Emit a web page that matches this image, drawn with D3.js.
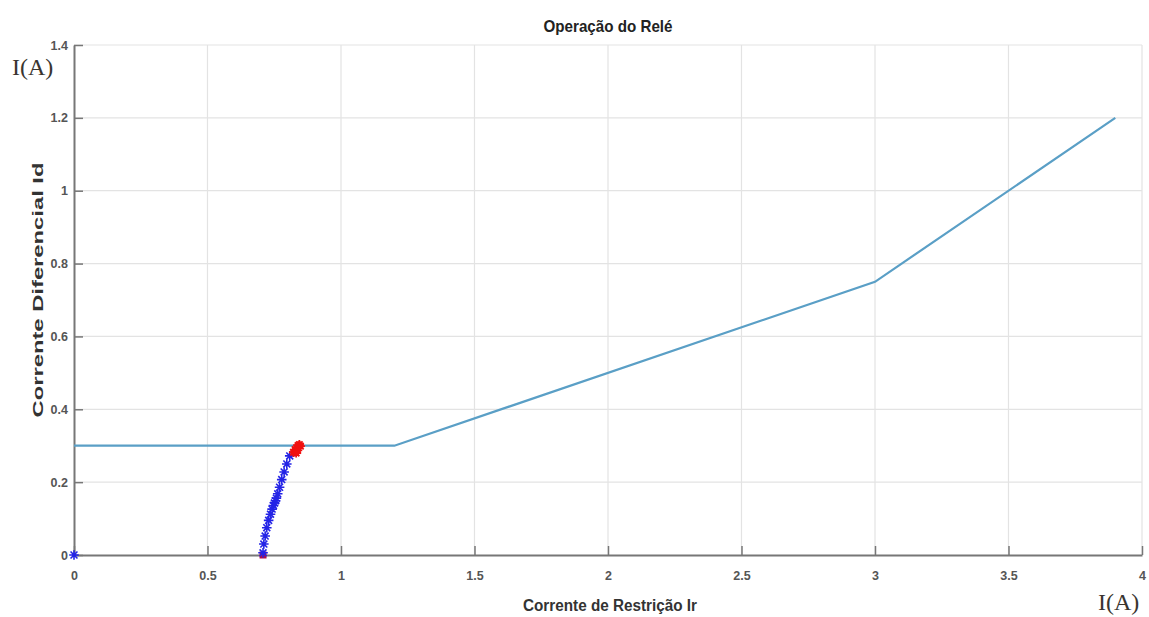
<!DOCTYPE html>
<html>
<head>
<meta charset="utf-8">
<script src="https://cdn.jsdelivr.net/npm/d3@7"></script>
<style>
  html, body { margin: 0; padding: 0; background: #fff; }
  svg { display: block; }
</style>
</head>
<body>
<svg id="chart" width="1149" height="617"></svg>
<script>
// Relay characteristic: restraint current Ir vs differential current Id
const characteristicIr = [0, 1.2, 3.0, 3.9];
const characteristicId = [0.3, 0.3, 0.75, 1.2];

// Measured trajectory (blue stars) while the fault develops
const trajIr = [0, 0.708, 0.711, 0.716, 0.722, 0.729, 0.736, 0.742, 0.747, 0.751, 0.755, 0.758, 0.763, 0.770, 0.778, 0.787, 0.797, 0.808];
const trajId = [0, 0.006, 0.030, 0.052, 0.075, 0.095, 0.112, 0.126, 0.136, 0.143, 0.149, 0.156, 0.168, 0.186, 0.207, 0.228, 0.250, 0.272];

// Trip points (red) on the characteristic
const tripIr = [0.822, 0.828, 0.834, 0.839, 0.844, 0.848, 0.838, 0.832];
const tripId = [0.282, 0.289, 0.295, 0.300, 0.303, 0.299, 0.287, 0.280];

// Starting sample
const startIr = [0.708];
const startId = [0.0];

const xTicks = [0, 0.5, 1, 1.5, 2, 2.5, 3, 3.5, 4];
const yTicks = [0, 0.2, 0.4, 0.6, 0.8, 1, 1.2, 1.4];

const titleText = "Operação do Relé";
const xLabelText = "Corrente de Restrição Ir";
const yLabelText = "Corrente Diferencial Id";
const unitText = "I(A)";

const W = 1149, H = 617;
const margin = { left: 74, right: 7, top: 45, bottom: 62 };
const svg = d3.select("#chart");

const x = d3.scaleLinear().domain([0, 4]).range([margin.left, W - margin.right]);
const y = d3.scaleLinear().domain([0, 1.4]).range([H - margin.bottom, margin.top]);

// grid
const grid = svg.append("g");
grid.selectAll("line.gx").data(xTicks.slice(1)).join("line")
  .attr("x1", d => x(d)).attr("x2", d => x(d))
  .attr("y1", y(0)).attr("y2", y(1.4))
  .attr("stroke", "#e3e3e3").attr("stroke-width", 1.2);
grid.selectAll("line.gy").data(yTicks.slice(1)).join("line")
  .attr("y1", d => y(d)).attr("y2", d => y(d))
  .attr("x1", x(0)).attr("x2", x(4))
  .attr("stroke", "#e3e3e3").attr("stroke-width", 1.2);

// axes (ticks point inward)
const fmt = d => d3.format("~g")(d);
const xAxis = svg.append("g").attr("transform", `translate(0,${y(0)})`)
  .call(d3.axisBottom(x).tickValues(xTicks).tickFormat(fmt).tickSizeInner(-9).tickSizeOuter(0).tickPadding(16));
const yAxis = svg.append("g").attr("transform", `translate(${x(0)},0)`)
  .call(d3.axisLeft(y).tickValues(yTicks).tickFormat(fmt).tickSizeInner(-9).tickSizeOuter(0).tickPadding(6));
[xAxis, yAxis].forEach(g => {
  g.select(".domain").attr("stroke", "#777").attr("stroke-width", 2);
  g.selectAll(".tick line").attr("stroke", "#777").attr("stroke-width", 1.5);
  g.selectAll(".tick text")
    .attr("fill", "#555")
    .attr("font-family", "Liberation Sans, Arial, sans-serif")
    .attr("font-weight", "bold")
    .attr("font-size", 12.5);
});

// characteristic line
const line = d3.line().x(d => x(d[0])).y(d => y(d[1]));
svg.append("path")
  .datum(d3.zip(characteristicIr, characteristicId))
  .attr("d", line)
  .attr("fill", "none")
  .attr("stroke", "#5a9fc6")
  .attr("stroke-width", 2.2);

// star marker path (MATLAB '*')
function starPath(r) {
  const a = r * 0.72;
  return `M${-r},0L${r},0M0,${-r}L0,${r}M${-a},${-a}L${a},${a}M${-a},${a}L${a},${-a}`;
}

// start square
svg.append("g").selectAll("rect").data(d3.zip(startIr, startId)).join("rect")
  .attr("x", d => x(d[0]) - 3.5).attr("y", d => y(d[1]) - 3.5)
  .attr("width", 7).attr("height", 7)
  .attr("fill", "#b0104a");

// trajectory stars
svg.append("g").selectAll("path").data(d3.zip(trajIr, trajId)).join("path")
  .attr("transform", d => `translate(${x(d[0])},${y(d[1])})`)
  .attr("d", starPath(4.8))
  .attr("stroke", "#2424e6")
  .attr("stroke-width", 1.6)
  .attr("fill", "none");

// trip points
const trip = svg.append("g");
trip.selectAll("circle").data(d3.zip(tripIr, tripId)).join("circle")
  .attr("cx", d => x(d[0])).attr("cy", d => y(d[1]))
  .attr("r", 3.2).attr("fill", "#f01010");
trip.selectAll("path").data(d3.zip(tripIr, tripId)).join("path")
  .attr("transform", d => `translate(${x(d[0])},${y(d[1])})`)
  .attr("d", starPath(4.5))
  .attr("stroke", "#f01010").attr("stroke-width", 1.8).attr("fill", "none");

// title and axis labels
svg.append("text")
  .attr("x", 608).attr("y", 32)
  .attr("text-anchor", "middle")
  .attr("font-family", "Liberation Sans, Arial, sans-serif")
  .attr("font-weight", "bold").attr("font-size", 17)
  .attr("fill", "#222")
  .attr("textLength", 129).attr("lengthAdjust", "spacingAndGlyphs")
  .text(titleText);

svg.append("text")
  .attr("x", 610).attr("y", 611)
  .attr("text-anchor", "middle")
  .attr("font-family", "Liberation Sans, Arial, sans-serif")
  .attr("font-weight", "bold").attr("font-size", 16)
  .attr("fill", "#333")
  .attr("textLength", 174).attr("lengthAdjust", "spacingAndGlyphs")
  .text(xLabelText);

svg.append("text")
  .attr("transform", "translate(43,290) rotate(-90)")
  .attr("text-anchor", "middle")
  .attr("font-family", "Liberation Sans, Arial, sans-serif")
  .attr("font-weight", "bold").attr("font-size", 14)
  .attr("fill", "#333")
  .attr("textLength", 255).attr("lengthAdjust", "spacingAndGlyphs")
  .text(yLabelText);

// unit labels
svg.append("text")
  .attr("x", 12).attr("y", 75)
  .attr("font-family", "Liberation Serif, Times New Roman, serif")
  .attr("font-size", 24).attr("fill", "#3a3530")
  .text(unitText);
svg.append("text")
  .attr("x", 1098).attr("y", 610)
  .attr("font-family", "Liberation Serif, Times New Roman, serif")
  .attr("font-size", 24).attr("fill", "#3a3530")
  .text(unitText);
</script>
</body>
</html>
